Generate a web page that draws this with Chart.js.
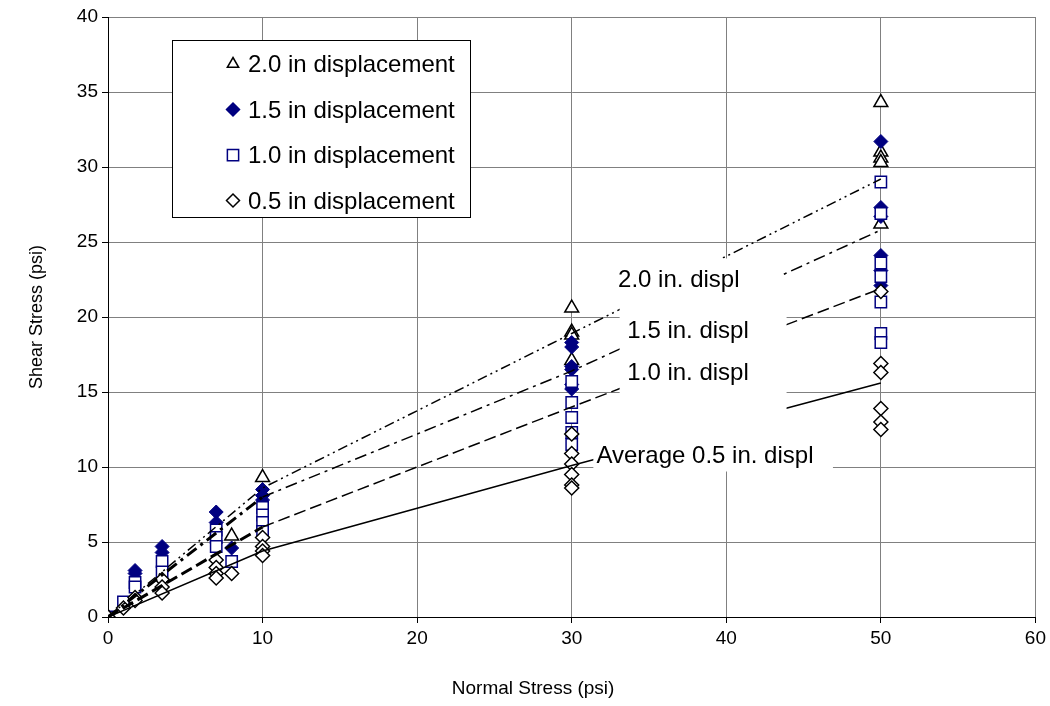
<!DOCTYPE html>
<html>
<head>
<meta charset="utf-8">
<script src="https://cdn.jsdelivr.net/npm/chart.js@4.4.1/dist/chart.umd.min.js"></script>
<style>
  html, body { margin:0; padding:0; background:#fff; }
  #wrap { width:1050px; height:706px; }
</style>
</head>
<body>
<div id="wrap"><canvas id="c"></canvas></div>
<script>
// ── fonts / colours ──
const FONT = 'Arial, "Liberation Sans", sans-serif';
const NAVY = '#000080';
const GRID = '#808080';

// ── measured points: normal stress (x) vs shear stress (y), psi ──
const d20X = [0, 8, 10, 30, 30, 30, 30, 50, 50, 50, 50, 50];
const d20Y = [0, 5.4, 9.3, 20.6, 19.0, 18.8, 17.1, 34.3, 31.0, 30.6, 30.3, 26.2];

const d15X = [0, 1.75, 1.75, 3.5, 3.5, 7, 7, 8, 10, 10, 10, 30, 30, 30, 30, 30, 30, 50, 50, 50, 50, 50, 50];
const d15Y = [0, 3.1, 2.9, 4.7, 4.3, 7.0, 6.3, 4.6, 8.5, 8.1, 7.8, 18.3, 18.0, 16.7, 16.5, 15.5, 15.2, 31.7, 27.3, 26.7, 24.1, 23.1, 22.1];

const d10X = [0, 1, 1.75, 1.75, 3.5, 3.5, 7, 7, 7, 8, 10, 10, 10, 10, 30, 30, 30, 30, 30, 50, 50, 50, 50, 50, 50, 50];
const d10Y = [0, 1.0, 2.3, 2.0, 3.7, 3.0, 5.8, 5.3, 4.7, 3.7, 7.3, 6.8, 6.3, 5.7, 15.7, 14.3, 13.3, 12.3, 11.5, 29.0, 26.9, 23.6, 22.7, 21.0, 18.9, 18.3];

const d05X = [0, 1, 1.75, 1.75, 3.5, 3.5, 3.5, 7, 7, 7, 7, 8, 10, 10, 10, 10, 30, 30, 30, 30, 30, 30, 50, 50, 50, 50, 50, 50];
const d05Y = [0, 0.6, 1.3, 1.1, 2.5, 2.0, 1.6, 3.8, 3.3, 2.9, 2.6, 2.9, 5.3, 4.7, 4.4, 4.1, 12.2, 10.9, 10.2, 9.5, 8.8, 8.6, 21.7, 16.9, 16.3, 13.9, 13.0, 12.5];

// ── trend lines ──
const lineX   = [0, 10, 30, 50];
const line20Y = [0, 8.6, 18.9, 29.2];
const line15Y = [0, 8.0, 16.4, 25.8];
const line10Y = [0, 6.0, 14.0, 21.9];
const line05Y = [0, 4.4, 10.1, 15.6];

// ── legend / labels ──
const legendNames = ['2.0 in displacement', '1.5 in displacement', '1.0 in displacement', '0.5 in displacement'];
const lineLabels  = ['2.0 in. displ', '1.5 in. displ', '1.0 in. displ', 'Average 0.5 in. displ'];
const xTitle = 'Normal Stress (psi)';

const pts = (xs, ys) => xs.map((x, i) => ({ x, y: ys[i] }));

/* ── label boxes + text placed in data units ── */
const labelBoxes = [
  { x0:32.0, x1:43.5, y0:20.6, y1:23.9 },
  { x0:33.1, x1:43.9, y0:12.6, y1:20.6 },
  { x0:31.4, x1:46.9, y0:9.7,  y1:12.6 }
];
const labelPos = [ {x:33.0, y:22.0}, {x:33.6, y:18.6}, {x:33.6, y:15.8}, {x:31.6, y:10.27} ];

const labelPlugin = {
  id:'labels',
  afterDatasetsDraw(chart) {
    const { ctx, scales:{x, y} } = chart;
    ctx.save();
    ctx.fillStyle = '#fff';
    labelBoxes.forEach(b => {
      const l = x.getPixelForValue(b.x0), r = x.getPixelForValue(b.x1);
      const t = y.getPixelForValue(b.y1), bt = y.getPixelForValue(b.y0);
      ctx.fillRect(l, t, r - l, bt - t);
    });
    ctx.fillStyle = '#000';
    ctx.font = '24px ' + FONT;
    ctx.textBaseline = 'alphabetic';
    ctx.textAlign = 'left';
    lineLabels.forEach((s, i) => {
      ctx.fillText(s, x.getPixelForValue(labelPos[i].x), y.getPixelForValue(labelPos[i].y));
    });
    // x axis title sits a little left of the plot centre in the original
    ctx.font = '19px ' + FONT;
    ctx.textAlign = 'center';
    ctx.textBaseline = 'middle';
    ctx.fillText(xTitle, x.getPixelForValue(27.5), chart.height - 17);
    ctx.restore();
  }
};

function marker(ctx, kind, cx, cy, r) {
  ctx.beginPath();
  if (kind === 'tri') {
    ctx.moveTo(cx, cy - r); ctx.lineTo(cx + r * 0.87, cy + r * 0.5); ctx.lineTo(cx - r * 0.87, cy + r * 0.5);
  } else if (kind === 'sq') {
    ctx.rect(cx - r * 0.75, cy - r * 0.75, r * 1.5, r * 1.5);
  } else {
    ctx.moveTo(cx, cy - r); ctx.lineTo(cx + r, cy); ctx.lineTo(cx, cy + r); ctx.lineTo(cx - r, cy);
  }
  ctx.closePath();
}

const legendPlugin = {
  id:'boxLegend',
  afterDraw(chart) {
    const { ctx, chartArea:a } = chart;
    const L = a.left + 64, T = a.top + 23, W = 298, H = 177;
    ctx.save();
    ctx.fillStyle = '#fff'; ctx.fillRect(L, T, W, H);
    ctx.strokeStyle = '#000'; ctx.lineWidth = 1;
    ctx.strokeRect(L + 0.5, T + 0.5, W, H);
    const kinds = [
      { k:'tri', fill:null, stroke:'#000' },
      { k:'dia', fill:NAVY, stroke:NAVY },
      { k:'sq',  fill:'#fff', stroke:NAVY },
      { k:'dia', fill:'#fff', stroke:'#000' }
    ];
    ctx.font = '24px ' + FONT;
    ctx.textBaseline = 'alphabetic';
    legendNames.forEach((s, i) => {
      const cy = T + 24 + i * 45.5;
      const m = kinds[i];
      marker(ctx, m.k, L + 61, cy, m.k === 'sq' ? 7.5 : 6.5);
      if (m.fill) { ctx.fillStyle = m.fill; ctx.fill(); }
      ctx.lineWidth = 1.5; ctx.strokeStyle = m.stroke; ctx.stroke();
      ctx.fillStyle = '#000';
      ctx.fillText(s, L + 76, cy + 8);
    });
    ctx.restore();
  }
};

// first segment of the 1.5 / 1.0 lines is drawn heavier, as in the original
const lineDs = (ys, dash, firstW) => ({
  type:'line', data:pts(lineX, ys), showLine:true, pointRadius:0,
  borderColor:'#000', borderWidth:1.5, borderDash:dash, fill:false, order:0,
  segment:{ borderWidth: c => (c.p0DataIndex === 0 ? firstW : 1.5) }
});

new Chart(document.getElementById('c'), {
  type:'scatter',
  data:{ datasets:[
    { data:pts(d20X, d20Y), pointStyle:'triangle', pointRadius:8, backgroundColor:'#fff', borderColor:'#000', borderWidth:1.5, order:4 },
    { data:pts(d15X, d15Y), pointStyle:'rectRot', pointRadius:7, backgroundColor:NAVY, borderColor:NAVY, borderWidth:1, order:3 },
    { data:pts(d10X, d10Y), pointStyle:'rect', pointRadius:8, backgroundColor:'#fff', borderColor:NAVY, borderWidth:1.5, order:2 },
    { data:pts(d05X, d05Y), pointStyle:'rectRot', pointRadius:7, backgroundColor:'#fff', borderColor:'#000', borderWidth:1.5, order:1 },
    lineDs(line20Y, [10, 4, 2, 4, 2, 4], 1.5),
    lineDs(line15Y, [12, 5, 3, 5], 3),
    lineDs(line10Y, [12, 5], 3),
    lineDs(line05Y, [], 1.5)
  ]},
  options:{
    responsive:true, maintainAspectRatio:false, animation:false,
    layout:{ padding:{ left:0, right:14, top:17, bottom:0 } },
    plugins:{ legend:{ display:false }, tooltip:{ enabled:false } },
    scales:{
      x:{ type:'linear', min:0, max:60,
        ticks:{ stepSize:10, color:'#000', font:{ size:19, family:FONT }, padding:4, maxRotation:0 },
        grid:{ color:GRID, tickColor:'#000', tickLength:6 },
        border:{ color:'#000' },
        afterFit:s => { s.height = 89; } },
      y:{ min:0, max:40,
        ticks:{ stepSize:5, color:'#000', font:{ size:19, family:FONT }, padding:4 },
        grid:{ color:GRID, tickColor:'#000', tickLength:6 },
        border:{ color:'#000' },
        title:{ display:true, text:'Shear Stress (psi)', color:'#000', font:{ size:18, family:FONT }, padding:{ top:26, bottom:4 } },
        afterFit:s => { s.width = 108; } }
    }
  },
  plugins:[labelPlugin, legendPlugin]
});
</script>
</body>
</html>
